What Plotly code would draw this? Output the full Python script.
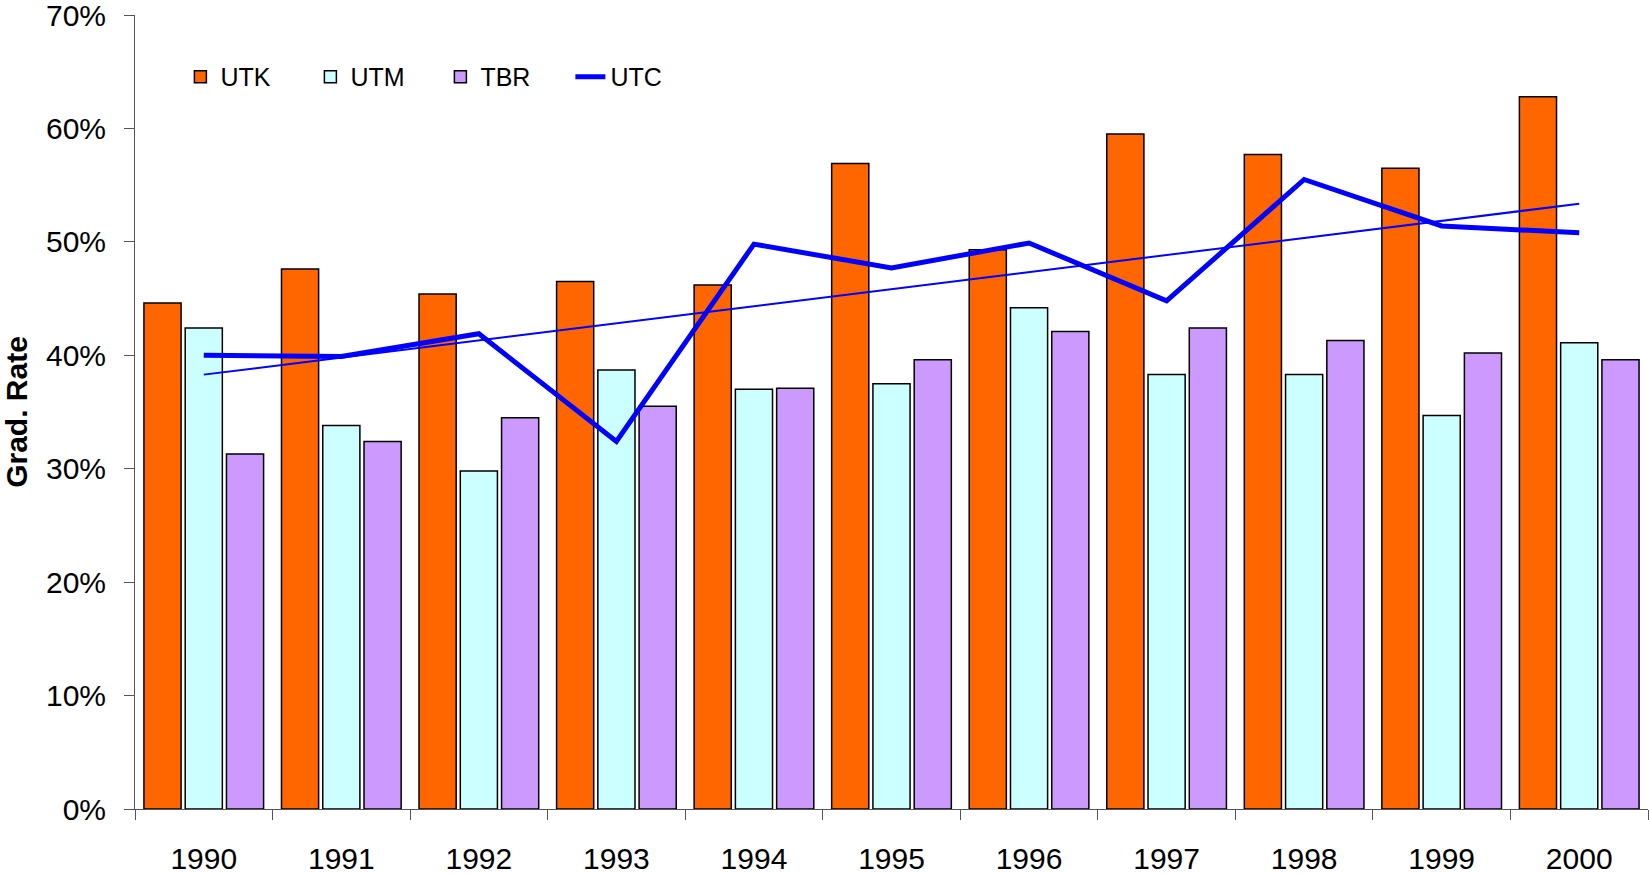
import numpy as np
import plotly.graph_objects as go

YEARS = ["1990", "1991", "1992", "1993", "1994", "1995", "1996", "1997", "1998", "1999", "2000"]

UTK = [44.6, 47.6, 45.4, 46.5, 46.2, 56.9, 49.3, 59.5, 57.7, 56.5, 62.8]
UTM = [42.4, 33.8, 29.8, 38.7, 37.0, 37.5, 44.2, 38.3, 38.3, 34.7, 41.1]
TBR = [31.3, 32.4, 34.5, 35.5, 37.1, 39.6, 42.1, 42.4, 41.3, 40.2, 39.6]
UTC = [40.0, 39.9, 41.9, 32.4, 49.8, 47.7, 49.9, 44.8, 55.5, 51.4, 50.8]

FONT = "Liberation Sans, Arial, sans-serif"

# linear trend of UTC (like Excel's trendline)
idx = np.arange(len(UTC))
slope, intercept = np.polyfit(idx, UTC, 1)
utc_trend = slope * idx + intercept

fig = go.Figure()
for name, vals, color in [("UTK", UTK, "#FF6600"), ("UTM", UTM, "#CCFFFF"), ("TBR", TBR, "#CC99FF")]:
    fig.add_trace(go.Bar(
        x=YEARS, y=vals, name=name,
        marker=dict(color=color, line=dict(color="black", width=1.5)),
    ))

fig.add_trace(go.Scatter(
    x=YEARS, y=UTC, name="UTC", mode="lines",
    line=dict(color="#0000FF", width=5),
))
fig.add_trace(go.Scatter(
    x=YEARS, y=utc_trend, mode="lines", showlegend=False,
    line=dict(color="#0000FF", width=2),
))

fig.update_layout(
    width=1649, height=874,
    margin=dict(l=135, r=1, t=15, b=65),
    plot_bgcolor="white", paper_bgcolor="white",
    font=dict(family=FONT, size=30, color="black"),
    barmode="group", bargap=0.1, bargroupgap=0.1,
    legend=dict(
        orientation="h", x=0.030, y=0.922, xanchor="left", yanchor="middle",
        font=dict(size=25), bgcolor="rgba(0,0,0,0)", entrywidth=85,
    ),
    xaxis=dict(
        showline=True, linecolor="#555555", linewidth=1,
        ticks="outside", tickson="boundaries", ticklen=10, tickcolor="#555555",
        ticklabelstandoff=23, showgrid=False, automargin=False,
    ),
    yaxis=dict(
        range=[0, 70.001], dtick=10, ticksuffix="%",
        showline=True, linecolor="#555555", linewidth=1,
        ticks="outside", ticklen=10, tickcolor="#555555",
        ticklabelstandoff=12, ticklabeloverflow="allow",
        showgrid=False, zeroline=False, automargin=False,
        title=dict(text="Grad. Rate", font=dict(size=30, weight="bold"), standoff=28),
    ),
)

# the page's default body margin would shift the chart by 8px
fig.write_html(
    "out.html",
    config={"displayModeBar": False},
    post_script="document.body.style.margin='0';",
)
